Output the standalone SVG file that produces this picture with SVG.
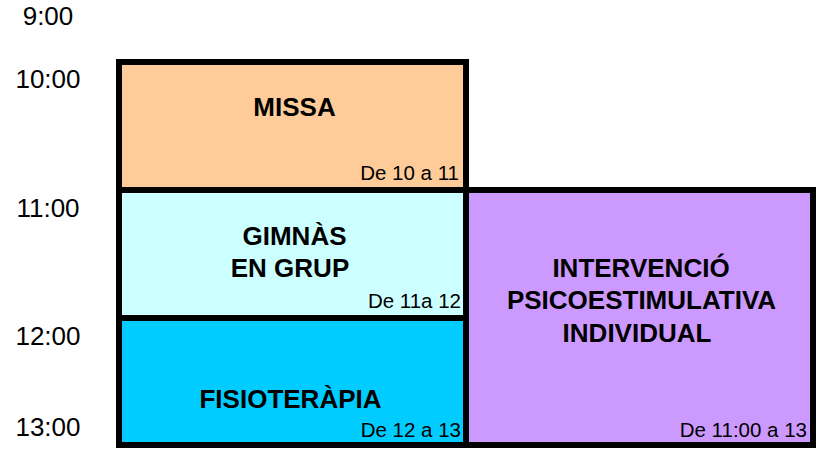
<svg xmlns="http://www.w3.org/2000/svg" width="829" height="449" viewBox="0 0 829 449">
<style>
.box{stroke:#000;stroke-width:6}
.t{font-family:"Liberation Sans",Arial,sans-serif;fill:#000}
.time{font-size:26px;text-anchor:middle}
.title{font-size:26px;font-weight:bold;text-anchor:middle}
.small{font-size:20.5px;text-anchor:end}
</style>
<rect width="829" height="449" fill="#fff"/>
<g id="times">
<text class="t time" x="48" y="25">9:00</text>
<text class="t time" x="48" y="88">10:00</text>
<text class="t time" x="48" y="217">11:00</text>
<text class="t time" x="48" y="345">12:00</text>
<text class="t time" x="48" y="436">13:00</text>
</g>
<g id="missa">
<rect class="box" x="119" y="62" width="347" height="128" fill="#FFCC99"/>
<text class="t title" x="294.5" y="116">MISSA</text>
<text class="t small" x="459" y="180">De 10 a 11</text>
</g>
<g id="gimnas">
<rect class="box" x="119" y="190" width="347" height="128" fill="#CCFFFF"/>
<text class="t title" x="294.5" y="245">GIMNÀS</text>
<text class="t title" x="290" y="277">EN GRUP</text>
<text class="t small" x="461" y="308">De 11a 12</text>
</g>
<g id="fisioterapia">
<rect class="box" x="119" y="318" width="347" height="127" fill="#00CCFF"/>
<text class="t title" x="290.5" y="408">FISIOTERÀPIA</text>
<text class="t small" x="461" y="437">De 12 a 13</text>
</g>
<g id="intervencio">
<rect class="box" x="466" y="190" width="347" height="255" fill="#CC99FF"/>
<text class="t title" x="641" y="277">INTERVENCIÓ</text>
<text class="t title" x="641.5" y="309">PSICOESTIMULATIVA</text>
<text class="t title" x="637" y="342">INDIVIDUAL</text>
<text class="t small" x="807" y="437">De 11:00 a 13</text>
</g>
<g id="connectors"/>
</svg>
